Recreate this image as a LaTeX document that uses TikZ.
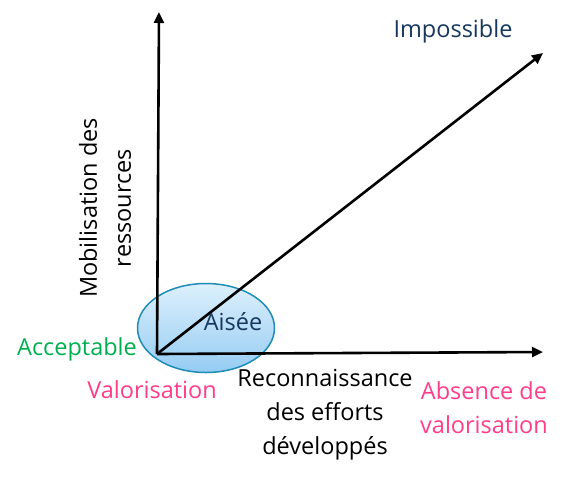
\documentclass[tikz,border=0pt]{standalone}
\usepackage{fontspec}
\setmainfont{Open Sans}
\usetikzlibrary{arrows.meta,shadings,shapes.geometric}
\definecolor{dkblue}{HTML}{17375E}
\definecolor{grn}{HTML}{00B050}
\definecolor{pnk}{HTML}{FF3D8B}
\definecolor{elltop}{HTML}{DDF0FC}
\definecolor{ellbot}{HTML}{95CCF3}
\definecolor{ellbd}{HTML}{1E8CB4}
\tikzset{
  axis/.style={line width=2.6pt,-{Triangle[length=11pt,width=10pt]}},
  lbl/.style={font=\fontsize{23.5}{34}\selectfont,align=center,inner sep=0pt},
}
\begin{document}
\begin{tikzpicture}[x=1pt,y=-1pt]
\useasboundingbox (0,0) rectangle (569,480);
\node[ellipse, minimum width=137pt, minimum height=89pt, draw=ellbd, line width=1.5pt,
  top color=elltop, bottom color=ellbot, inner sep=0pt] (ell) at (206,328) {};
\coordinate (o) at (157,354);
\coordinate (ytop) at (159,12);
\coordinate (xend) at (543,352);
\coordinate (dend) at (543,53);
\draw[axis] (o) -- (ytop);
\draw[axis] (o) -- (xend);
\draw[axis] (o) -- (dend);
\node[lbl,text=dkblue] (imp) at (453,31) {Impossible};
\node[lbl,text=dkblue] (ais) at (233,322) {Aisée};
\node[lbl,text=grn] (acc) at (77,349) {Acceptable};
\node[lbl,text=pnk] (val) at (152,390) {Valorisation};
\node[lbl,text=black] (rec) at (325,415) {Reconnaissance\\des efforts\\développés};
\node[lbl,text=pnk] (abs) at (484,408) {Absence de\\valorisation};
\node[lbl,text=black,rotate=90] (mob) at (105,208) {Mobilisation des\\ressources};
\end{tikzpicture}
\end{document}
